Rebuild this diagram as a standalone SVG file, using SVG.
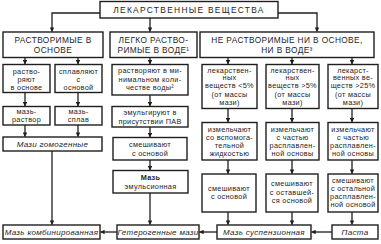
<svg xmlns="http://www.w3.org/2000/svg" width="381" height="244" viewBox="0 0 381 244">
<defs>
<marker id="ah" viewBox="0 0 6 6" refX="5.5" refY="3" markerWidth="4.5" markerHeight="4.5" orient="auto" markerUnits="userSpaceOnUse">
<path d="M0,0 L6,3 L0,6 z" fill="#1e1e1e"/>
</marker>
<style>
rect{fill:#fff;stroke:#1e1e1e;stroke-width:1.4}
text{font-family:"Liberation Sans",Arial,sans-serif;fill:#1e1e1e;text-anchor:middle}
.h{font-size:8.3px;letter-spacing:0.4px}
.t{font-size:8.4px;letter-spacing:1.3px}
.s{font-size:7.3px;letter-spacing:0.3px}
.r{font-size:8px;font-style:italic;letter-spacing:0.3px}
.c path{fill:none;stroke:#1e1e1e;stroke-width:1.3;marker-end:url(#ah)}
</style>
</defs>
<rect x="0" y="0" width="381" height="244" style="fill:#fff;stroke:none"/>
<g id="top"><rect x="100" y="1.5" width="178" height="16.5"/><text class="t" x="189" y="13">ЛЕКАРСТВЕННЫЕ ВЕЩЕСТВА</text></g>
<g id="h1"><rect x="3" y="32" width="100" height="25.5"/><text class="h" x="53" y="43">РАСТВОРИМЫЕ В</text><text class="h" x="53" y="52.5">ОСНОВЕ</text></g>
<g id="h2"><rect x="110" y="32" width="87" height="25.5"/><text class="h" x="153.5" y="43">ЛЕГКО РАСТВО-</text><text class="h" x="153.5" y="52.5">РИМЫЕ В ВОДЕ¹</text></g>
<g id="h3"><rect x="200" y="32" width="174" height="25.5"/><text class="h" x="287" y="43">НЕ РАСТВОРИМЫЕ НИ В ОСНОВЕ,</text><text class="h" x="287" y="52.5">НИ В ВОДЕ³</text></g>
<g id="l1"><rect x="3" y="64.5" width="47" height="28"/><text class="s" x="26.5" y="74">раство-</text><text class="s" x="26.5" y="81.5">ряют</text><text class="s" x="26.5" y="89.5">в основе</text></g>
<g id="l2"><rect x="55" y="64.5" width="47" height="28"/><text class="s" x="78.5" y="74">сплавляют</text><text class="s" x="78.5" y="81.5">с</text><text class="s" x="78.5" y="89.5">основой</text></g>
<g id="l3"><rect x="3" y="106.5" width="47" height="18.5"/><text class="s" x="26.5" y="114">мазь-</text><text class="s" x="26.5" y="122">раствор</text></g>
<g id="l4"><rect x="55" y="106.5" width="47" height="18.5"/><text class="s" x="78.5" y="114">мазь-</text><text class="s" x="78.5" y="122">сплав</text></g>
<g id="l5"><rect x="3" y="137" width="99" height="14"/><text class="r" x="52.5" y="147">Мази гомогенные</text></g>
<g id="m1"><rect x="112" y="64.5" width="76" height="30.5"/><text class="s" x="150" y="73">растворяют в ми-</text><text class="s" x="150" y="81.5">нимальном коли-</text><text class="s" x="150" y="90">честве воды²</text></g>
<g id="m2"><rect x="112" y="106.5" width="76" height="20.5"/><text class="s" x="150" y="115">эмульгируют в</text><text class="s" x="150" y="123.5">присутствии ПАВ</text></g>
<g id="m3"><rect x="113" y="137.5" width="74" height="22.5"/><text class="s" x="150" y="147">смешивают</text><text class="s" x="150" y="156">с основой</text></g>
<g id="m4"><rect x="113" y="170.5" width="75" height="22.5"/><text class="s" x="150.5" y="180" style="font-weight:bold">Мазь</text><text class="s" x="150.5" y="189">эмульсионная</text></g>
<g id="r1"><rect x="202" y="64.5" width="55" height="44"/><text class="s" x="229.5" y="72.5">лекарствен-</text><text class="s" x="229.5" y="80">ных</text><text class="s" x="229.5" y="88">веществ &lt;5%</text><text class="s" x="229.5" y="96.5">(от массы</text><text class="s" x="229.5" y="104.5">мази)</text></g>
<g id="r2"><rect x="266" y="64.5" width="53" height="44"/><text class="s" x="292.5" y="72.5">лекарствен-</text><text class="s" x="292.5" y="80">ных</text><text class="s" x="292.5" y="88">веществ &gt;5%</text><text class="s" x="292.5" y="96.5">(от массы</text><text class="s" x="292.5" y="104.5">мази)</text></g>
<g id="r3"><rect x="328" y="64.5" width="50" height="44"/><text class="s" x="353" y="72.5">лекарст-</text><text class="s" x="353" y="80">венных ве-</text><text class="s" x="353" y="88">ществ &gt;25%</text><text class="s" x="353" y="96.5">(от массы</text><text class="s" x="353" y="104.5">мази)</text></g>
<g id="r4"><rect x="202" y="122.5" width="55" height="37.5"/><text class="s" x="229.5" y="132">измельчают</text><text class="s" x="229.5" y="140">со вспомога-</text><text class="s" x="229.5" y="148">тельной</text><text class="s" x="229.5" y="156">жидкостью</text></g>
<g id="r5"><rect x="266" y="122.5" width="53" height="37.5"/><text class="s" x="292.5" y="132">измельчают</text><text class="s" x="292.5" y="140">с частью</text><text class="s" x="292.5" y="148">расплавлен-</text><text class="s" x="292.5" y="156">ной основы</text></g>
<g id="r6"><rect x="328" y="122.5" width="50" height="37.5"/><text class="s" x="353" y="132">измельчают</text><text class="s" x="353" y="140">с частью</text><text class="s" x="353" y="148">расплавлен-</text><text class="s" x="353" y="156">ной основы</text></g>
<g id="r7"><rect x="202" y="174" width="54" height="38"/><text class="s" x="229" y="190.5">смешивают</text><text class="s" x="229" y="199">с основой</text></g>
<g id="r8"><rect x="266" y="174" width="52" height="38"/><text class="s" x="292" y="186">смешивают</text><text class="s" x="292" y="194.5">с оставшей-</text><text class="s" x="292" y="203">ся основой</text></g>
<g id="r9"><rect x="328" y="174" width="50" height="38"/><text class="s" x="353" y="182.5">смешивают</text><text class="s" x="353" y="190.5">с остальной</text><text class="s" x="353" y="198.5">расплавлен-</text><text class="s" x="353" y="206.5">ной основой</text></g>
<g id="b1"><rect x="3" y="225" width="97" height="14"/><text class="r" x="51.5" y="235">Мазь комбинированная</text></g>
<g id="b2"><rect x="117" y="225" width="82" height="14"/><text class="r" x="158" y="235">Гетерогенные мази</text></g>
<g id="b3"><rect x="217" y="225" width="94" height="14"/><text class="r" x="264" y="235">Мазь суспензионная</text></g>
<g id="b4"><rect x="332" y="225" width="46" height="14"/><text class="r" x="355" y="235">Паста</text></g>
<g id="connectors" class="c">
<path d="M100,13 H52 V31.5"/>
<path d="M150,18 V31.5"/>
<path d="M278,13 H317 V31.5"/>
<path d="M25,57.5 V64"/>
<path d="M78,57.5 V64"/>
<path d="M25,92.5 V106"/>
<path d="M78,92.5 V106"/>
<path d="M25,125 V136.5"/>
<path d="M78,125 V136.5"/>
<path d="M52,151 V224.5"/>
<path d="M150,57.5 V64"/>
<path d="M150,95 V106"/>
<path d="M150,127 V137"/>
<path d="M150,160 V170"/>
<path d="M150,193 V224.5"/>
<path d="M228,57.5 V64"/>
<path d="M292,57.5 V64"/>
<path d="M352,57.5 V64"/>
<path d="M228,108.5 V122"/>
<path d="M292,108.5 V122"/>
<path d="M352,108.5 V122"/>
<path d="M228,160 V173.5"/>
<path d="M292,160 V173.5"/>
<path d="M352,160 V173.5"/>
<path d="M228,212 V224.5"/>
<path d="M292,212 V224.5"/>
<path d="M352,212 V224.5"/>
<path d="M117,232 H100.5"/>
<path d="M217,232 H199.5"/>
<path d="M332,232 H311.5"/>
</g>
</svg>
